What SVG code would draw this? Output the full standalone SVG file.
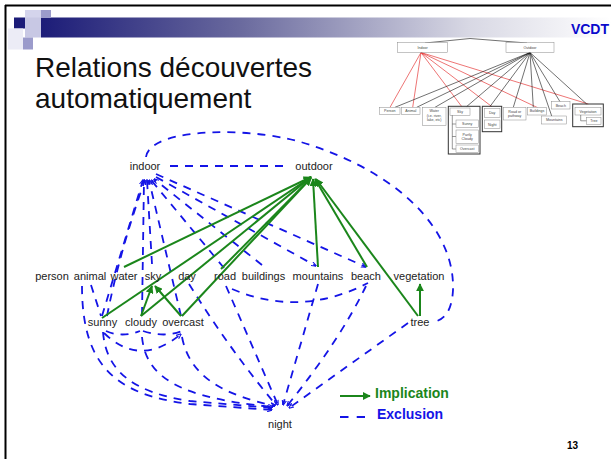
<svg xmlns="http://www.w3.org/2000/svg" width="611" height="459" viewBox="0 0 611 459">
<defs>
<linearGradient id="hdr" x1="0" y1="0" x2="1" y2="0">
<stop offset="0" stop-color="#1c1c78"/>
<stop offset="0.35" stop-color="#6a6a9e"/>
<stop offset="0.75" stop-color="#d8d8e4"/>
<stop offset="1" stop-color="#ffffff"/>
</linearGradient>
<marker id="ga" viewBox="0 0 10 10" refX="9" refY="5" markerWidth="4" markerHeight="4" orient="auto" markerUnits="strokeWidth">
<path d="M0,0 L10,5 L0,10 z" fill="#1b861b"/>
</marker>
<marker id="ba" viewBox="0 0 10 10" refX="9" refY="5" markerWidth="3" markerHeight="3" orient="auto" markerUnits="strokeWidth">
<path d="M0,1 L10,5 L0,9" fill="none" stroke="#1414e6" stroke-width="2"/>
</marker>
</defs>
<style>
.lbl{font-family:"Liberation Sans",Arial,sans-serif;font-size:11px;fill:#222;text-anchor:middle}
.ex{fill:none;stroke:#1414e6;stroke-width:1.8;stroke-dasharray:8 7}
.exa{fill:none;stroke:#1414e6;stroke-width:1.8;stroke-dasharray:8 7;marker-end:url(#ba)}
.im{fill:none;stroke:#1b861b;stroke-width:2;marker-end:url(#ga)}
.ib{fill:#fff;stroke:#8a8a8a;stroke-width:0.5}
.ig{fill:none;stroke:#333;stroke-width:1}
.it{font-family:"Liberation Sans",Arial,sans-serif;font-size:3.6px;fill:#444;text-anchor:middle}
.rl{stroke:#e01818;stroke-width:0.6;fill:none}
.kl{stroke:#111;stroke-width:0.6;fill:none}
</style>
<rect x="0" y="0" width="611" height="459" fill="#fff"/>
<!-- slide frame -->
<line x1="5.5" y1="5" x2="5.5" y2="459" stroke="#000" stroke-width="2"/>
<line x1="5" y1="5.5" x2="611" y2="5.5" stroke="#000" stroke-width="2"/>
<!-- header -->
<g id="header">
<rect x="41" y="17.5" width="570" height="20" fill="url(#hdr)"/>
<rect x="25" y="10" width="16" height="8" fill="#d4d4ec"/>
<rect x="41" y="10" width="10" height="8" fill="#9b9bcb"/>
<rect x="14" y="17.5" width="11" height="11" fill="#1c1c78"/>
<rect x="25" y="17.5" width="16" height="20" fill="#c8c8e4"/>
<rect x="8" y="28.5" width="15" height="21" fill="#ececf6"/>
<rect x="23" y="37.5" width="10" height="12" fill="#9b9bcb"/>
<text x="609" y="34" font-family="Liberation Sans,Arial,sans-serif" font-size="14" font-weight="bold" fill="#0a0acc" text-anchor="end">VCDT</text>
</g>
<g id="title" font-family="Liberation Sans,Arial,sans-serif" font-size="28" fill="#111">
<text x="35" y="77">Relations découvertes</text>
<text x="35" y="108">automatiquement</text>
</g>
<!-- inset taxonomy -->
<g id="inset">
<polyline class="kl" points="425,43 470,38.5 527,43"/>
<g class="rl">
<line x1="421" y1="52.5" x2="390" y2="107.3"/>
<line x1="421" y1="52.5" x2="412.7" y2="107.3"/>
<line x1="421" y1="52.5" x2="461.7" y2="106.5"/>
<line x1="421" y1="52.5" x2="491.7" y2="106.5"/>
<line x1="421" y1="52.5" x2="538.3" y2="108"/>
<line x1="421" y1="52.5" x2="588.3" y2="104"/>
</g>
<g class="kl">
<line x1="530" y1="52.5" x2="395" y2="107.3"/>
<line x1="530" y1="52.5" x2="416.7" y2="107.3"/>
<line x1="530" y1="52.5" x2="435" y2="107.3"/>
<line x1="530" y1="52.5" x2="466.7" y2="106.5"/>
<line x1="530" y1="52.5" x2="490" y2="106.5"/>
<line x1="530" y1="52.5" x2="513.3" y2="107.3"/>
<line x1="530" y1="52.5" x2="533.3" y2="107.3"/>
<line x1="530" y1="52.5" x2="551.7" y2="116"/>
<line x1="530" y1="52.5" x2="560" y2="101.7"/>
<line x1="530" y1="52.5" x2="586.7" y2="104"/>
</g>
<rect class="ib" x="397.7" y="42.7" width="49.6" height="9.6"/>
<text class="it" x="422.5" y="48.8">Indoor</text>
<rect class="ib" x="506" y="42.7" width="48" height="9.6"/>
<text class="it" x="530" y="48.8">Outdoor</text>
<rect class="ib" x="379.3" y="107.3" width="20.7" height="7.4"/>
<text class="it" x="389.7" y="112.2">Person</text>
<rect class="ib" x="401.7" y="107.3" width="18.3" height="7.4"/>
<text class="it" x="410.8" y="112.2">Animal</text>
<rect class="ib" x="422.3" y="107.3" width="23.7" height="18.4"/>
<text class="it" x="434.2" y="112">Water</text>
<text class="it" x="434.2" y="116.5">(i.e. river,</text>
<text class="it" x="434.2" y="121">lake, etc)</text>
<rect class="ig" x="448.3" y="106.3" width="31.7" height="47.7"/>
<rect class="ib" x="450" y="108" width="20" height="7.3"/>
<text class="it" x="460" y="112.8">Sky</text>
<polyline fill="none" stroke="#333" stroke-width="0.5" points="452.3,115.3 452.3,149 456,149"/>
<line x1="452.3" y1="124" x2="456" y2="124" stroke="#333" stroke-width="0.5"/>
<line x1="452.3" y1="136.5" x2="456" y2="136.5" stroke="#333" stroke-width="0.5"/>
<rect class="ib" x="456" y="120" width="22.3" height="7.7"/>
<text class="it" x="467.2" y="125">Sunny</text>
<rect class="ib" x="456" y="130" width="22.3" height="13.3"/>
<text class="it" x="467.2" y="135.5">Partly</text>
<text class="it" x="467.2" y="140">Cloudy</text>
<rect class="ib" x="456" y="145" width="22.3" height="7.7"/>
<text class="it" x="467.2" y="150">Overcast</text>
<rect class="ig" x="482.3" y="106.3" width="19.4" height="25.4"/>
<rect class="ib" x="484.3" y="108.3" width="15.7" height="9"/>
<text class="it" x="492.2" y="114">Day</text>
<rect class="ib" x="484.3" y="120" width="15.7" height="8.7"/>
<text class="it" x="492.2" y="125.6">Night</text>
<rect class="ib" x="503.3" y="107.3" width="22.7" height="12.7"/>
<text class="it" x="514.7" y="112.5">Road or</text>
<text class="it" x="514.7" y="117">pathway</text>
<rect class="ib" x="527.3" y="107.3" width="19.4" height="7.7"/>
<text class="it" x="537" y="112.3">Buildings</text>
<rect class="ib" x="541.7" y="116" width="25" height="8"/>
<text class="it" x="554.2" y="121.2">Mountains</text>
<rect class="ib" x="551.7" y="101.7" width="18.3" height="7.3"/>
<text class="it" x="560.8" y="106.5">Beach</text>
<rect class="ig" x="572.7" y="104" width="30.6" height="22.7"/>
<rect class="ib" x="575" y="107.7" width="26" height="7.3"/>
<text class="it" x="588" y="112.5">Vegetation</text>
<polyline fill="none" stroke="#333" stroke-width="0.5" points="580.7,115 580.7,120.8 586.7,120.8"/>
<rect class="ib" x="586.7" y="117.3" width="14.3" height="7"/>
<text class="it" x="593.8" y="122">Tree</text>
</g>
<!-- connectors -->
<g id="connectors">
<g id="exclusions">
<path class="ex" d="M170,166 L290,166"/>
<path class="ex" d="M146,157 C150,126 260,126 313,146 C400,175 455,230 453,290 C452,310 445,320 433,322"/>
<path class="exa" d="M102,316 L143,180"/>
<path class="exa" d="M107,316 Q120,250 145,180"/>
<path class="exa" d="M142,315 L144,180"/>
<path class="exa" d="M152,264 L147,180"/>
<path class="exa" d="M181,316 Q163,240 149,180"/>
<path class="exa" d="M224,268 L151,180"/>
<path class="exa" d="M262,265 L154,179"/>
<path class="exa" d="M156,177 L316,266"/>
<path class="exa" d="M156,174 L366,267"/>
<path class="exa" d="M82,286 C82,365 115,395 190,404 L272,410"/>
<path class="ex" d="M91,285 L101,316"/>
<path class="exa" d="M103,332 C106,372 135,393 190,401 L272,408"/>
<path class="exa" d="M142,337 C146,378 180,398 273,407"/>
<path class="exa" d="M182,337 C190,378 225,395 275,406"/>
<path class="ex" d="M106,331 Q122,338 140,331"/>
<path class="ex" d="M143,331 Q165,338 182,331"/>
<path class="exa" d="M104,333 Q140,368 181,334"/>
<path class="exa" d="M189,284 Q230,350 276,405"/>
<path class="exa" d="M226,286 L278,405"/>
<path class="exa" d="M318,284 L283,405"/>
<path class="exa" d="M366,286 Q340,340 287,406"/>
<path class="exa" d="M408,323 L289,408"/>
<path class="ex" d="M232,289 Q300,318 368,283"/>
</g>
<g id="implications">
<path class="im" d="M124,267 L311,177"/>
<path class="im" d="M102,318 L311,177"/>
<path class="im" d="M141,316 L311,177"/>
<path class="im" d="M182,316 L311,178"/>
<path class="im" d="M221,269 L311,178"/>
<path class="im" d="M141,316 L152,286"/>
<path class="im" d="M181,316 L155,286"/>
<path class="im" d="M318,267 L313,179"/>
<path class="im" d="M367,267 L315,179"/>
<path class="im" d="M418,316 L316,179"/>
<path class="im" d="M420,316 L420,284"/>
</g>
</g>
<!-- nodes -->
<g id="n-indoor"><text class="lbl" x="145" y="170">indoor</text></g>
<g id="n-outdoor"><text class="lbl" x="314" y="170">outdoor</text></g>
<g id="n-person"><text class="lbl" x="52" y="280">person</text></g>
<g id="n-animal"><text class="lbl" x="90" y="280">animal</text></g>
<g id="n-water"><text class="lbl" x="124" y="280">water</text></g>
<g id="n-sky"><text class="lbl" x="153" y="280">sky</text></g>
<g id="n-day"><text class="lbl" x="187" y="280">day</text></g>
<g id="n-road"><text class="lbl" x="225" y="280">road</text></g>
<g id="n-buildings"><text class="lbl" x="263.5" y="280">buildings</text></g>
<g id="n-mountains"><text class="lbl" x="318" y="280">mountains</text></g>
<g id="n-beach"><text class="lbl" x="366" y="280">beach</text></g>
<g id="n-vegetation"><text class="lbl" x="419" y="280">vegetation</text></g>
<g id="n-sunny"><text class="lbl" x="102.5" y="326">sunny</text></g>
<g id="n-cloudy"><text class="lbl" x="141" y="326">cloudy</text></g>
<g id="n-overcast"><text class="lbl" x="183" y="326">overcast</text></g>
<g id="n-tree"><text class="lbl" x="420" y="326">tree</text></g>
<g id="n-night"><text class="lbl" x="280" y="428">night</text></g>
<!-- legend -->
<g id="legend" font-family="Liberation Sans,Arial,sans-serif" font-size="14" font-weight="bold">
<line x1="340" y1="396" x2="370" y2="396" stroke="#1b861b" stroke-width="2" marker-end="url(#ga)"/>
<text x="375" y="398" fill="#1b861b">Implication</text>
<line x1="340" y1="417" x2="348.5" y2="417" stroke="#1414e6" stroke-width="2"/>
<line x1="356.7" y1="417" x2="365" y2="417" stroke="#1414e6" stroke-width="2"/>
<text x="377" y="419" fill="#1414e6">Exclusion</text>
</g>
<text x="567" y="449" font-family="Liberation Sans,Arial,sans-serif" font-size="10" font-weight="bold" fill="#000">13</text>
</svg>
